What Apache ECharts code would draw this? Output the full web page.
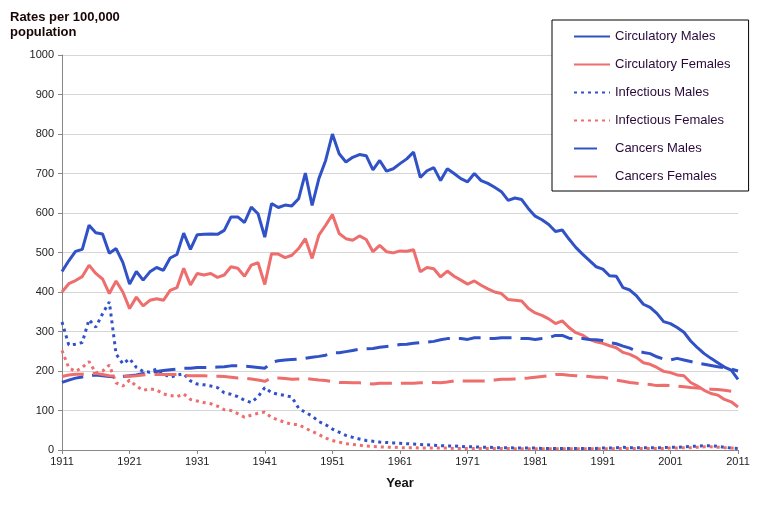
<!DOCTYPE html>
<html>
<head>
<meta charset="utf-8">
<script src="https://cdn.jsdelivr.net/npm/echarts@6/dist/echarts.min.js"></script>
<style>
  html, body { margin: 0; padding: 0; background: #fff; }
  #chart { width: 759px; height: 513px; }
</style>
</head>
<body>
<div id="chart"></div>
<script>
var years = [];
for (var y = 1911; y <= 2011; y++) years.push("" + y);

var yTicks = [0, 100, 200, 300, 400, 500, 600, 700, 800, 900, 1000];

var circulatoryMales = [
  452, 479, 503, 508, 569, 550, 547, 498, 510, 475,
  420, 452, 430, 451, 462, 455, 486, 495, 549, 508,
  545, 546, 547, 546, 556, 590, 590, 576, 615, 598,
  539, 624, 614, 620, 618, 636, 701, 619, 687, 733,
  800, 750, 729, 741, 748, 745, 709, 733, 706, 712,
  725, 737, 754, 690, 707, 715, 682, 712, 700, 687,
  679, 700, 682, 675, 665, 654, 632, 638, 634, 611,
  592, 583, 571, 553, 557, 534, 513, 496, 480, 464,
  458, 441, 440, 411, 405, 390, 369, 361, 346, 325,
  320, 310, 298, 276, 259, 244, 232, 221, 210, 202,
  179
];

var circulatoryFemales = [
  400, 421, 429, 439, 468, 447, 433, 396, 428, 400,
  358, 387, 365, 379, 383, 379, 404, 411, 460, 418,
  447, 443, 447, 437, 443, 464, 460, 440, 468, 474,
  419, 497, 496, 487, 493, 510, 535, 485, 544, 569,
  596, 548, 535, 531, 542, 533, 502, 518, 502, 499,
  504, 503, 507, 451, 462, 459, 438, 453, 440, 430,
  420, 428, 417, 408, 400, 396, 381, 379, 377, 358,
  347, 341, 332, 320, 327, 310, 297, 291, 280, 274,
  270, 264, 259, 247, 242, 234, 221, 217, 209, 199,
  196, 190, 188, 171, 162, 151, 143, 139, 128, 122,
  109
];

var infectiousMales = [
  324, 266, 268, 272, 330, 311, 345, 375, 243, 218,
  231, 209, 199, 197, 205, 193, 184, 190, 193, 175,
  167, 165, 162, 158, 145, 141, 135, 126, 120, 135,
  158, 145, 141, 138, 134, 106, 95, 86, 72, 64,
  53, 45, 37, 32, 28, 24, 22, 20, 19, 18,
  17, 16, 15, 14, 13, 12, 11, 10, 10, 9,
  8, 8, 7, 7, 6, 6, 6, 5, 5, 5,
  5, 4, 4, 4, 4, 4, 4, 4, 4, 4,
  5, 5, 6, 7, 6, 6, 6, 6, 6, 6,
  7, 7, 8, 9, 10, 11, 11, 9, 7, 5,
  4
];

var infectiousFemales = [
  252, 208, 199, 209, 224, 195, 200, 215, 170, 162,
  177, 162, 151, 155, 152, 142, 138, 135, 142, 128,
  124, 120, 117, 111, 102, 100, 92, 83, 88, 93,
  96, 82, 76, 70, 65, 64, 55, 47, 39, 30,
  24, 20, 16, 14, 12, 10, 9, 8, 7, 7,
  6, 6, 6, 5, 5, 5, 5, 5, 4, 4,
  4, 4, 4, 4, 4, 4, 4, 3, 3, 3,
  3, 3, 3, 3, 3, 3, 3, 3, 3, 3,
  3, 3, 4, 4, 4, 4, 4, 4, 4, 4,
  5, 5, 6, 6, 7, 8, 8, 7, 6, 5,
  4
];

var cancersMales = [
  171, 177, 182, 185, 187, 190, 188, 186, 185, 186,
  188, 190, 194, 197, 199, 201, 203, 205, 207, 207,
  209, 209, 209, 210, 211, 213, 213, 212, 211, 209,
  207, 222, 226, 228, 229, 230, 232, 235, 237, 240,
  246, 246, 249, 252, 255, 256, 257, 260, 262, 264,
  267, 268, 270, 272, 273, 275, 279, 282, 282, 282,
  280, 284, 284, 282, 282, 284, 284, 284, 282, 282,
  280, 282, 284, 290, 290, 283, 282, 282, 280, 279,
  277, 272, 269, 263, 258, 250, 247, 244, 236, 230,
  228, 232, 228, 224, 220, 217, 214, 211, 208, 205,
  200
];

var cancersFemales = [
  186, 190, 192, 192, 193, 194, 191, 188, 187, 187,
  187, 188, 190, 191, 191, 191, 191, 191, 189, 188,
  188, 188, 187, 187, 186, 184, 182, 182, 180, 177,
  174, 182, 182, 181, 179, 180, 181, 179, 177, 176,
  173, 171, 171, 170, 170, 169, 167, 169, 169, 169,
  169, 169, 169, 170, 171, 171, 170, 172, 175, 175,
  175, 175, 175, 175, 177, 179, 179, 180, 181, 182,
  184, 186, 188, 191, 191, 189, 188, 187, 186, 184,
  184, 181, 177, 174, 171, 169, 167, 166, 163, 164,
  163, 162, 160, 158, 157, 155, 154, 153, 151, 149,
  148
];

var blue = "#3052c6";
var pink = "#ee6d6d";
var font = "'Liberation Sans', Arial, sans-serif";

function makeSeries(name, data, color, type) {
  return {
    name: name,
    type: "line",
    data: data,
    symbol: "none",
    showSymbol: false,
    silent: true,
    lineStyle: { color: color, width: 3, type: type },
    itemStyle: { color: color }
  };
}

var chart = echarts.init(document.getElementById("chart"));
var option = {
  animation: false,
  backgroundColor: "#fff",
  textStyle: { fontFamily: font },
  title: {
    text: "Rates per 100,000\npopulation",
    left: 5,
    top: 5,
    textStyle: { fontFamily: font, fontSize: 13, fontWeight: "bold", color: "#1a0505", lineHeight: 15 }
  },
  legend: {
    orient: "vertical",
    left: 552,
    top: 20,
    padding: [10, 18, 8, 21],
    backgroundColor: "#fff",
    borderColor: "#000",
    borderWidth: 1,
    itemWidth: 36,
    itemHeight: 14,
    itemGap: 15,
    itemStyle: { opacity: 0 },
    textStyle: { fontFamily: font, fontSize: 13, color: "#2a0a3a" },
    data: [
      "Circulatory Males", "Circulatory Females", "Infectious Males", "Infectious Females",
      { name: "Cancers Males", lineStyle: { type: [23, 20] } },
      { name: "Cancers Females", lineStyle: { type: [23, 20] } }
    ]
  },
  grid: { left: 62, right: 21, top: 55, bottom: 63 },
  xAxis: {
    type: "category",
    data: years,
    boundaryGap: false,
    name: "Year",
    nameLocation: "middle",
    nameGap: 27,
    nameTextStyle: { fontFamily: font, fontSize: 13, fontWeight: "bold", color: "#111" },
    axisLine: { lineStyle: { color: "#888", width: 1 } },
    axisTick: { interval: 9, length: 4, lineStyle: { color: "#888" } },
    axisLabel: { interval: 9, fontSize: 11, color: "#222", margin: 6 },
    splitLine: { show: false }
  },
  yAxis: {
    type: "value",
    min: yTicks[0],
    max: yTicks[yTicks.length - 1],
    interval: 100,
    axisLine: { show: true, lineStyle: { color: "#888", width: 1 } },
    axisTick: { show: true, length: 4, lineStyle: { color: "#888" } },
    axisLabel: { fontSize: 11, color: "#222", margin: 8, formatter: function (v) { return "" + v; } },
    splitLine: { lineStyle: { color: "#d6d6d6", width: 1 } }
  },
  series: [
    makeSeries("Circulatory Males", circulatoryMales, blue, "solid"),
    makeSeries("Circulatory Females", circulatoryFemales, pink, "solid"),
    makeSeries("Infectious Males", infectiousMales, blue, [3, 4]),
    makeSeries("Infectious Females", infectiousFemales, pink, [3, 4]),
    makeSeries("Cancers Males", cancersMales, blue, [22, 9]),
    makeSeries("Cancers Females", cancersFemales, pink, [22, 9])
  ]
};
chart.setOption(option);
</script>
</body>
</html>
